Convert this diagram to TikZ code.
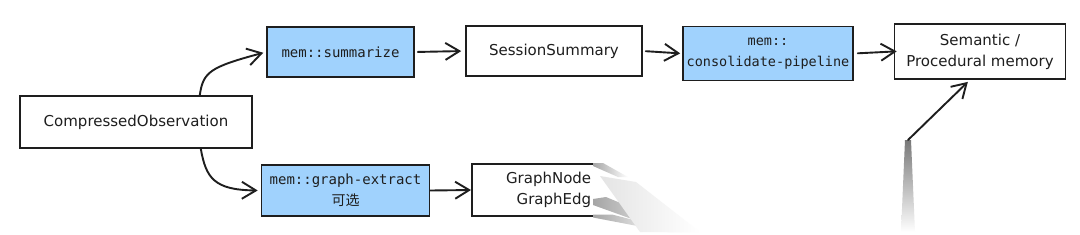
\documentclass[tikz,border=0pt]{standalone}
\usepackage{fontspec}
\setmainfont{DejaVu Sans}
\newfontfamily\monof{DejaVu Sans Mono}
\newfontfamily\cjkf{Noto Sans CJK SC}
\usetikzlibrary{arrows.meta,calc}
\definecolor{ink}{HTML}{1E1E1E}
\definecolor{bluefill}{HTML}{A0D2FD}
\begin{document}
\begin{tikzpicture}[x=1pt,y=-1pt,
  box/.style={draw=ink, line width=1.6pt, rectangle, inner sep=0pt, align=center, text=ink,
    font=\fontsize{15}{21}\selectfont},
  bluebox/.style={box, fill=bluefill, font=\monof\fontsize{14}{21}\selectfont},
  conn/.style={draw=ink, line width=1.9pt, line cap=round,
    -{Straight Barb[length=14pt,width=17pt,line width=1.9pt]}}
]
\useasboundingbox (0,0) rectangle (1080,234);
\fill[white] (0,0) rectangle (1080,234);

% nodes
\node[box, minimum width=232pt, minimum height=52pt] (comp) at (136,122) {CompressedObservation};
\node[bluebox, minimum width=147pt, minimum height=50pt] (summ) at (340.5,52) {mem::summarize};
\node[box, minimum width=176pt, minimum height=50pt] (sess) at (554,51) {SessionSummary};
\node[bluebox, minimum width=170pt, minimum height=54pt, font=\monof\fontsize{13.5}{21}\selectfont] (cons) at (768,53.5) {mem::\\consolidate-pipeline};
\node[box, minimum width=171pt, minimum height=55pt] (sem) at (980,51.5) {Semantic /\\Procedural memory};
\node[bluebox, minimum width=168pt, minimum height=51pt] (gext) at (345.5,190.5) {mem::graph-extract\\{\cjkf\fontsize{14}{21}\selectfont 可选}};

% partially faded GraphNode box
\node[box, draw=none, text width=110pt, align=right, anchor=east] (gnode) at (592,190) {GraphNode\\GraphEdg};
\coordinate (gnw) at (472,190);
\draw[ink, line width=1.6pt] (594,164) -- (472,164) -- (472,216) -- (594,216);
\shade[left color=ink!40, right color=white] (593,163) -- (603,163) -- (628,177) -- (618,177) -- (593,166) -- cycle;
\shade[left color=ink!40, right color=white] (593,199) -- (606,197) -- (690,232) -- (668,232) -- (593,205) -- cycle;
\shade[left color=ink!40, right color=white] (593,214.5) -- (612,214.5) -- (665,228) -- (648,228) -- (593,217.5) -- cycle;
\shade[left color=ink!12, right color=white] (600,176) -- (636,182) -- (700,232) -- (640,232) -- cycle;

% faded start of the upward arrow
\coordinate (upstart) at (908,140);
\shade[top color=ink!60, middle color=ink!10, bottom color=white] (905,140) -- (911,140) -- (915,232) -- (901,232) -- cycle;

% connectors
\draw[conn, shorten >=3pt] ([xshift=-53pt]comp.north east) .. controls (203,72) and (210,67) .. (summ.west);
\draw[conn, shorten >=3pt] ([xshift=-52pt]comp.south east) .. controls (206,178) and (214,190) .. (gext.west);
\draw[conn, shorten <=3pt, shorten >=4pt] (summ.east) -- (sess.west);
\draw[conn, shorten <=3pt, shorten >=2pt] (sess.east) -- (cons.west);
\draw[conn, shorten <=4pt, shorten >=-3pt] (cons.east) -- (sem.west);
\draw[conn, shorten >=1pt] (gext.east) -- (gnw);
\draw[conn, shorten >=3pt] (upstart) -- ([xshift=-10pt]sem.south);
\end{tikzpicture}
\end{document}
